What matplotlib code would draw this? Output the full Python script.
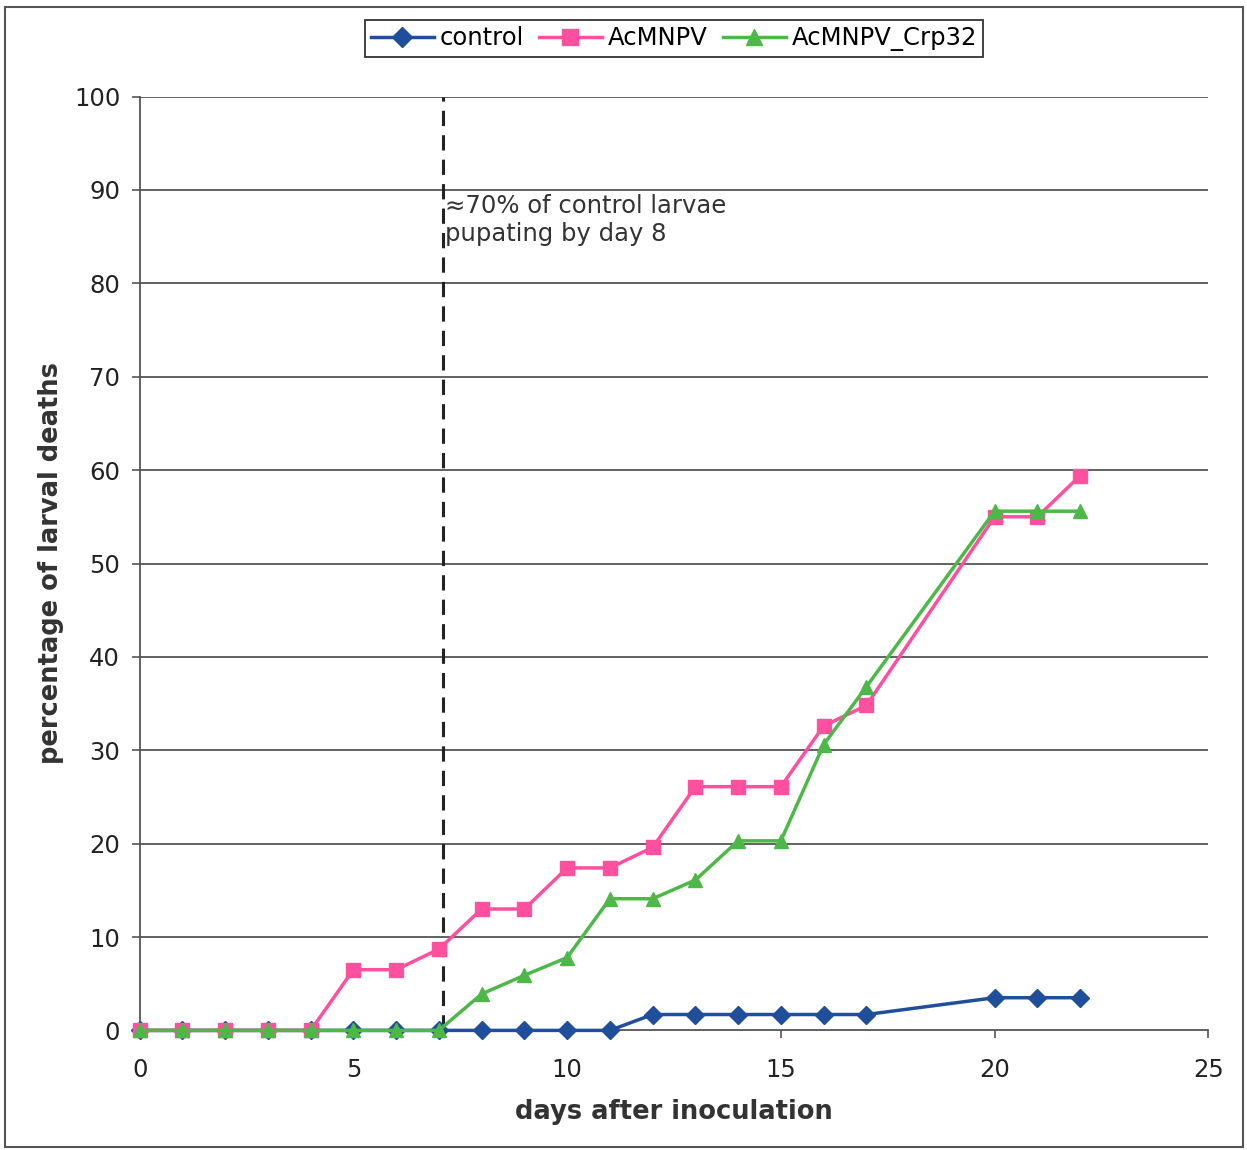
import matplotlib

matplotlib.use("Agg")

import matplotlib.pyplot as plt
from matplotlib.patches import Rectangle


DAYS = [0, 1, 2, 3, 4, 5, 6, 7, 8, 9, 10, 11, 12, 13, 14, 15, 16, 17, 20, 21, 22]
CONTROL = [0, 0, 0, 0, 0, 0, 0, 0, 0, 0, 0, 0, 1.7, 1.7, 1.7, 1.7, 1.7, 1.7, 3.5, 3.5, 3.5]
ACMNPV = [0, 0, 0, 0, 0, 6.5, 6.5, 8.7, 13.0, 13.0, 17.4, 17.4, 19.6, 26.1, 26.1, 26.1,
          32.6, 34.8, 55.0, 55.0, 59.4]
CRP32 = [0, 0, 0, 0, 0, 0, 0, 0, 3.9, 5.9, 7.8, 14.1, 14.1, 16.1, 20.3, 20.3,
         30.6, 36.8, 55.6, 55.6, 55.6]

PUPATION_DAY = 7.1
NOTE = "\u224870% of control larvae\npupating by day 8"


def main() -> None:
    plt.rcParams["font.family"] = ["DejaVu Sans"]
    fig = plt.figure(figsize=(12.47, 11.5), dpi=100)
    fig.patch.set_facecolor("white")
    ax = fig.add_axes([0.112, 0.104, 0.857, 0.812])

    # outer frame of the scanned chart
    fig.patches.append(Rectangle((0.004, 0.003), 0.993, 0.991, transform=fig.transFigure,
                                 fill=False, edgecolor="#555555", linewidth=1.5))

    ax.set_xlim(0, 25)
    ax.set_ylim(0, 100)
    ax.set_xticks(range(0, 26, 5))
    ax.set_yticks(range(0, 101, 10))
    ax.tick_params(labelsize=17.5, length=6, width=1.2, color="#555555", labelcolor="#222222")
    ax.tick_params(axis="x", pad=14)
    ax.tick_params(axis="y", pad=8)

    for y in range(10, 101, 10):
        ax.axhline(y, color="#555555", linewidth=1.3, zorder=1)

    for side in ("top", "right"):
        ax.spines[side].set_visible(False)
    for side in ("left", "bottom"):
        ax.spines[side].set_color("#555555")
        ax.spines[side].set_linewidth(1.3)

    ax.plot(DAYS, CONTROL, color="#1f4e9a", marker="D", markersize=9, linewidth=2.5,
            label="control", zorder=3, clip_on=False)
    ax.plot(DAYS, ACMNPV, color="#ff4f9f", marker="s", markersize=10, linewidth=2.5,
            label="AcMNPV", zorder=4, clip_on=False)
    ax.plot(DAYS, CRP32, color="#4db848", marker="^", markersize=10, linewidth=2.5,
            label="AcMNPV_Crp32", zorder=5, clip_on=False)

    ax.axvline(PUPATION_DAY, color="#222222", linestyle=(0, (5, 3)), linewidth=2.2, zorder=2)
    ax.text(PUPATION_DAY + 0.05, 89.6, NOTE, fontsize=17.5, ha="left", va="top",
            color="#333333", linespacing=1.2)

    ax.set_xlabel("days after inoculation", fontsize=18.5, fontweight="bold", labelpad=12,
                  color="#333333")
    ax.set_ylabel("percentage of larval deaths", fontsize=18.5, fontweight="bold",
                  color="#333333")
    ax.yaxis.set_label_coords(-0.071, 0.5)

    leg = ax.legend(loc="upper center", bbox_to_anchor=(0.5, 1.095), ncol=3, fontsize=17.5,
                    frameon=True, fancybox=False, edgecolor="#333333", framealpha=1,
                    handlelength=2.6, handletextpad=0.25, columnspacing=0.6,
                    borderpad=0.25, markerscale=1.1)
    leg.get_frame().set_linewidth(1.3)

    fig.savefig("out.png", dpi=100)
    plt.close(fig)


if __name__ == "__main__":
    main()
